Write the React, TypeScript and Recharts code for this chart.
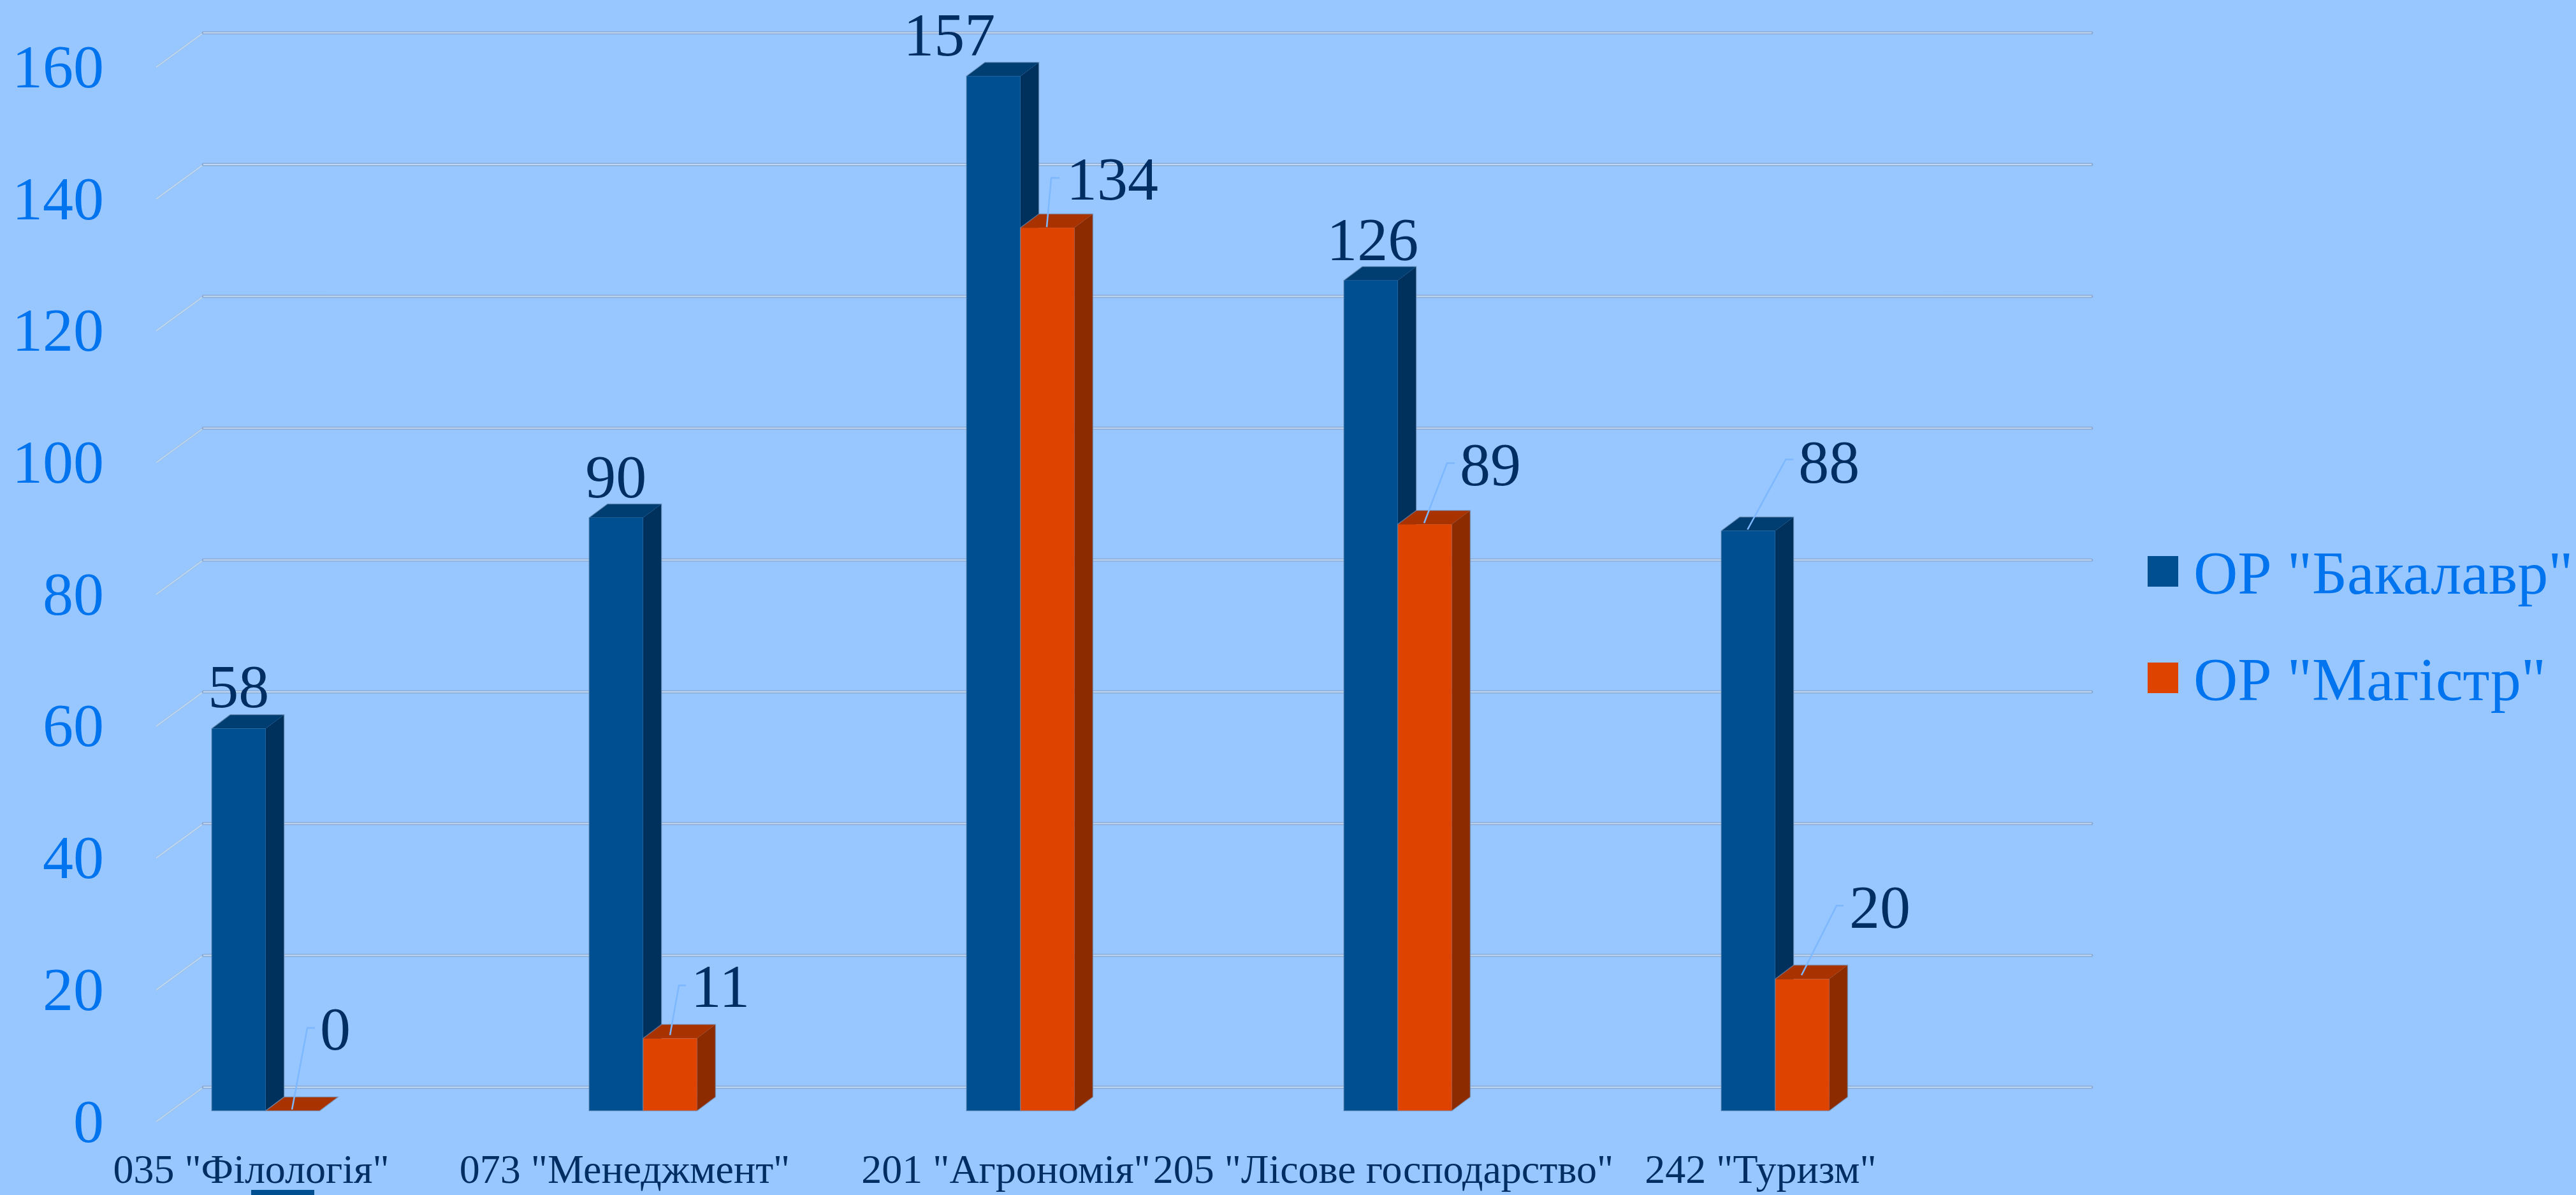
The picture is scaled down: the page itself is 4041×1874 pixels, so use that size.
import React from 'react';
import { Bar, BarChart, CartesianGrid, LabelList, Legend, XAxis, YAxis } from 'recharts';

const categories = ['035 "Філологія"', '073 "Менеджмент"', '201 "Агрономія"', '205 "Лісове господарство"', '242 "Туризм"'];
const bachelor = [58, 90, 157, 126, 88];
const master = [0, 11, 134, 89, 20];
const yTicks = [0, 20, 40, 60, 80, 100, 120, 140, 160];

const data = categories.map((name, i) => ({ name, bachelor: bachelor[i], master: master[i] }));

const FONT = '"Liberation Serif", "Times New Roman", serif';
const TICK_BLUE = '#0073EE';
const DARK_TEXT = '#002D62';
const BLUE = { front: '#004F91', top: '#003D70', side: '#00305C' };
const ORANGE = { front: '#DF4300', top: '#A93300', side: '#8C2A00' };
const DEPTH_X = 29;
const DEPTH_Y = 21.7;

// where each value label sits relative to the front top of its bar, plus the leader bend
const blueLabels = [
  { dx: 0, dy: -34 },
  { dx: 0, dy: -32 },
  { dx: -69, dy: -32 },
  { dx: 3, dy: -32 },
  { dx: 127, dy: -76, leader: { sx: -1, sy: -2, bx: 59, by: -112, ex: 71 } },
];
const orangeLabels = [
  { dx: 67, dy: -96, leader: { sx: -1, sy: -2, bx: 23, by: -130, ex: 35 } },
  { dx: 79, dy: -49, leader: { sx: 0, sy: -5, bx: 14, by: -83, ex: 25 } },
  { dx: 102, dy: -44, leader: { sx: -1, sy: -1, bx: 6, by: -78, ex: 19 } },
  { dx: 103, dy: -61, leader: { sx: -1, sy: -2, bx: 35, by: -96, ex: 47 } },
  { dx: 122, dy: -80, leader: { sx: -1, sy: -6, bx: 54, by: -115, ex: 65 } },
];

const Bar3D = (colors: typeof BLUE) => (props: any) => {
  const { x, y, width, height } = props;
  const r = x + width;
  const b = y + height;
  const outline = `M${x},${b} V${y} L${x + DEPTH_X},${y - DEPTH_Y} H${r + DEPTH_X} V${b - DEPTH_Y} L${r},${b} Z`;
  return (
    <g>
      <path d={`M${r},${y} L${r + DEPTH_X},${y - DEPTH_Y} V${b - DEPTH_Y} L${r},${b} Z`} fill={colors.side} />
      <path d={`M${x},${y} L${x + DEPTH_X},${y - DEPTH_Y} H${r + DEPTH_X} L${r},${y} Z`} fill={colors.top} />
      <rect x={x} y={y} width={width} height={height} fill={colors.front} />
      <path d={outline} fill="none" stroke="#6F93BB" strokeOpacity={0.6} strokeWidth={1.5} />
    </g>
  );
};

const valueLabel = (offsets: any[]) => (props: any) => {
  const { x, y, width, value, index } = props;
  const cx = x + width / 2;
  const o = offsets[index];
  return (
    <g>
      {o.leader && (
        <path
          d={`M${cx + o.leader.sx},${y + o.leader.sy} L${cx + o.leader.bx},${y + o.leader.by} H${cx + o.leader.ex}`}
          fill="none"
          stroke="#7DB8FF"
          strokeWidth={2.5}
        />
      )}
      <text x={cx + o.dx} y={y + o.dy} textAnchor="middle" fontFamily={FONT} fontSize={96} fill={DARK_TEXT}>
        {value}
      </text>
    </g>
  );
};

// back wall line with the short floor stub running to the front left
const gridLine = (props: any) => {
  const { x1, x2, y1 } = props;
  const stub = `M${x1 + 124},${y1 + 17} L${x1 + 198},${y1 - 37}`;
  const wall = `M${x1 + 198},${y1 - 37} H${x2 + 200}`;
  return (
    <g key={`grid-${y1}`}>
      <path d={stub} fill="none" stroke="#A0BEE0" strokeWidth={3} />
      <path d={stub} fill="none" stroke="#C2DBF3" strokeWidth={1.5} />
      <path d={wall} fill="none" stroke="#8CABD6" strokeWidth={5} strokeLinecap="round" />
      <path d={wall} fill="none" stroke="#BFD8F1" strokeWidth={2} />
    </g>
  );
};

const YTick = (props: any) => {
  const { y, payload } = props;
  return (
    <text x={163} y={y + 48.5} textAnchor="end" fontFamily={FONT} fontSize={96} fill={TICK_BLUE}>
      {payload.value}
    </text>
  );
};

const XTick = (props: any) => {
  const { x, payload, index } = props;
  const shift = index === 1 ? -29 : -23;
  return (
    <text x={x + shift} y={1855} textAnchor="middle" fontFamily={FONT} fontSize={64} fill={DARK_TEXT}>
      {payload.value}
    </text>
  );
};

const LegendBox = () => (
  <div style={{ fontFamily: FONT, fontSize: 96, color: TICK_BLUE, lineHeight: '167px', whiteSpace: 'nowrap' }}>
    {[
      { label: 'ОР "Бакалавр"', color: BLUE.front },
      { label: 'ОР "Магістр"', color: ORANGE.front },
    ].map((item) => (
      <div key={item.label} style={{ display: 'flex', alignItems: 'center', height: 167 }}>
        <span style={{ width: 48, height: 48, background: item.color, marginRight: 24, display: 'inline-block' }} />
        <span style={{ position: 'relative', top: 2 }}>{item.label}</span>
      </div>
    ))}
  </div>
);

export default function App() {
  return (
    <div style={{ position: 'absolute', left: 0, top: 0, width: 4041, height: 1874, overflow: 'hidden', background: '#97C7FE' }}>
      <BarChart
        width={4041}
        height={1874}
        data={data}
        margin={{ top: 88.4, right: 288, bottom: 0, left: 0 }}
        barSize={84.7}
        barGap={0}
      >
        <CartesianGrid vertical={false} horizontal={gridLine} />
        <XAxis dataKey="name" height={132} axisLine={false} tickLine={false} interval={0} tick={<XTick />} />
        <YAxis width={121} domain={[0, 160]} ticks={yTicks} axisLine={false} tickLine={false} tick={<YTick />} />
        <Legend
          layout="vertical"
          align="right"
          verticalAlign="top"
          wrapperStyle={{ left: 3369, right: 'auto', top: 812.5, width: 672 }}
          content={<LegendBox />}
        />
        <Bar dataKey="bachelor" name='ОР "Бакалавр"' fill={BLUE.front} shape={Bar3D(BLUE)} isAnimationActive={false}>
          <LabelList dataKey="bachelor" content={valueLabel(blueLabels)} />
        </Bar>
        <Bar dataKey="master" name='ОР "Магістр"' fill={ORANGE.front} shape={Bar3D(ORANGE)} isAnimationActive={false}>
          <LabelList dataKey="master" content={valueLabel(orangeLabels)} />
        </Bar>
      </BarChart>
      <div style={{ position: 'absolute', left: 394, top: 1866, width: 99, height: 8, background: BLUE.front }} />
    </div>
  );
}
